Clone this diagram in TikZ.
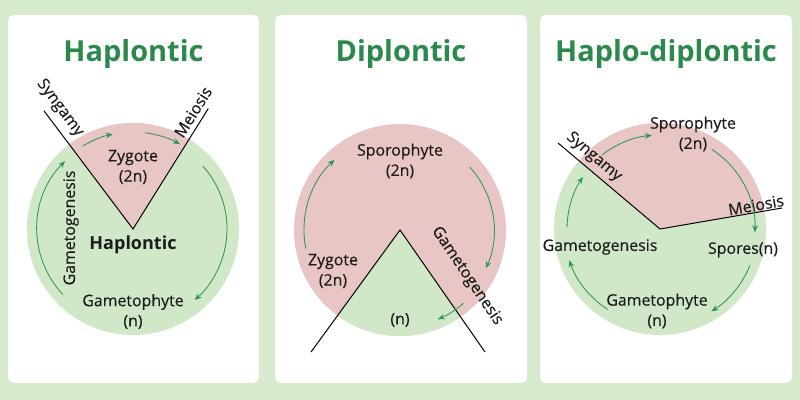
\documentclass[tikz,border=0pt]{standalone}
\usepackage{fontspec}
\setmainfont{Open Sans}
\newfontfamily\stagefont{Open Sans}[FakeBold=0.35]
\usepackage{xcolor}
\usetikzlibrary{arrows.meta, positioning}

\definecolor{pagegreen}{HTML}{D6EACD}
\definecolor{rosepink}{HTML}{E9C6C6}
\definecolor{leafgreen}{HTML}{D0E8C7}
\definecolor{titlegreen}{HTML}{2B8A4B}
\definecolor{arrowgreen}{HTML}{2E9556}
\definecolor{inkdark}{HTML}{1C1C1C}

\begin{document}
\begin{tikzpicture}[
  x=0.025cm, y=0.025cm,
  panel/.style={fill=white, rounded corners=4pt},
  title/.style={anchor=base, text=titlegreen, font=\fontsize{20.6}{24}\selectfont\bfseries},
  stage/.style={align=center, text=inkdark, inner sep=1pt, font=\stagefont\fontsize{11.3}{14.4}\selectfont},
  wedge/.style={draw=black, line width=0.7pt},
  cycarrow/.style={draw=arrowgreen, line width=0.6pt, -{Stealth[length=5pt, width=4pt]}}
]
\useasboundingbox (0,0) rectangle (800,400);
\fill[pagegreen] (0,0) rectangle (800,400);

\fill[panel] (8,17) rectangle (259,385);
\fill[panel] (275,17) rectangle (527,385);
\fill[panel] (540,17) rectangle (792,385);

% Haplontic
\node[title] (t1) at (133.5,338) {Haplontic};
\begin{scope}[shift={(133,171)}]
  \fill[leafgreen] (0,0) circle[radius=106];
  \fill[rosepink] (0,0) -- (58:106) arc[start angle=58, end angle=127, radius=106] -- cycle;
  \coordinate (h1v) at (0,0);
  \coordinate (h1a) at (127:148);
  \coordinate (h1b) at (58:142);
  \draw[wedge] (h1a) -- (h1v) -- (h1b);
  \node[stage] (zyg1) at (0,62) {Zygote\\(2n)};
  \node[stage, font=\fontsize{12.8}{15}\selectfont\bfseries] (hap1) at (0,-16) {Haplontic};
  \node[stage] (gph1) at (0,-82.5) {Gametophyte\\(n)};
  \node[stage, rotate=90] (gmg1) at (-62,1) {Gametogenesis};
  \node[stage, rotate=-53] (syn1) at (-73,121) {Syngamy};
  \node[stage, rotate=58] (mei1) at (60,117) {Meiosis};
  \draw[cycarrow] (223:96) arc[start angle=223, end angle=135, radius=96];
  \draw[cycarrow] (121:97) arc[start angle=121, end angle=102, radius=97];
  \draw[cycarrow] (83:97) arc[start angle=83, end angle=61, radius=97];
  \draw[cycarrow] (42:94) arc[start angle=42, end angle=-49, radius=94];
\end{scope}

% Diplontic
\node[title] (t2) at (401,338) {Diplontic};
\begin{scope}[shift={(400,170)}]
  \fill[rosepink] (0,0) circle[radius=106];
  \fill[leafgreen] (0,0) -- (234:106) arc[start angle=234, end angle=305, radius=106] -- cycle;
  \coordinate (d2v) at (0,0);
  \coordinate (d2a) at (-89,-122);
  \coordinate (d2b) at (85,-122);
  \draw[wedge] (d2a) -- (d2v) -- (d2b);
  \node[stage] (spo2) at (0,69) {Sporophyte\\(2n)};
  \node[stage] (zyg2) at (-67,-41) {Zygote\\(2n)};
  \node[stage] (hn2) at (0,-90) {(n)};
  \node[stage, rotate=-56] (gmg2) at (67,-46) {Gametogenesis};
  \draw[cycarrow] (191:96) arc[start angle=191, end angle=133, radius=96];
  \draw[cycarrow] (42:94) arc[start angle=42, end angle=-24, radius=94];
  \draw[cycarrow] (-49:97) arc[start angle=-49, end angle=-67, radius=97];
\end{scope}

% Haplo-diplontic
\node[title] (t3) at (666,338) {Haplo-diplontic};
\begin{scope}[shift={(660,171)}]
  \fill[leafgreen] (0,0) circle[radius=106];
  \fill[rosepink] (0,0) -- (10:106) arc[start angle=10, end angle=140, radius=106] -- cycle;
  \coordinate (h3v) at (0,0);
  \coordinate (h3a) at (-102,86);
  \coordinate (h3b) at (122,21);
  \draw[wedge] (h3a) -- (h3v) -- (h3b);
  \node[stage] (spo3) at (33,95) {Sporophyte\\(2n)};
  \node[stage] (gmg3) at (-60,-18) {Gametogenesis};
  \node[stage] (spr3) at (83,-21) {Spores(n)};
  \node[stage] (gph3) at (-3,-82) {Gametophyte\\(n)};
  \node[stage, rotate=-40] (syn3) at (-66,72) {Syngamy};
  \node[stage, rotate=10] (mei3) at (96,24) {Meiosis};
  \draw[cycarrow] (179:93) arc[start angle=179, end angle=146, radius=93];
  \draw[cycarrow] (128:94) arc[start angle=128, end angle=95, radius=94];
  \draw[cycarrow] (57:95) arc[start angle=57, end angle=-2, radius=95];
  \draw[cycarrow] (-22:97) arc[start angle=-22, end angle=-58, radius=97];
  \draw[cycarrow] (237:96) arc[start angle=237, end angle=199, radius=96];
\end{scope}

\end{tikzpicture}
\end{document}
